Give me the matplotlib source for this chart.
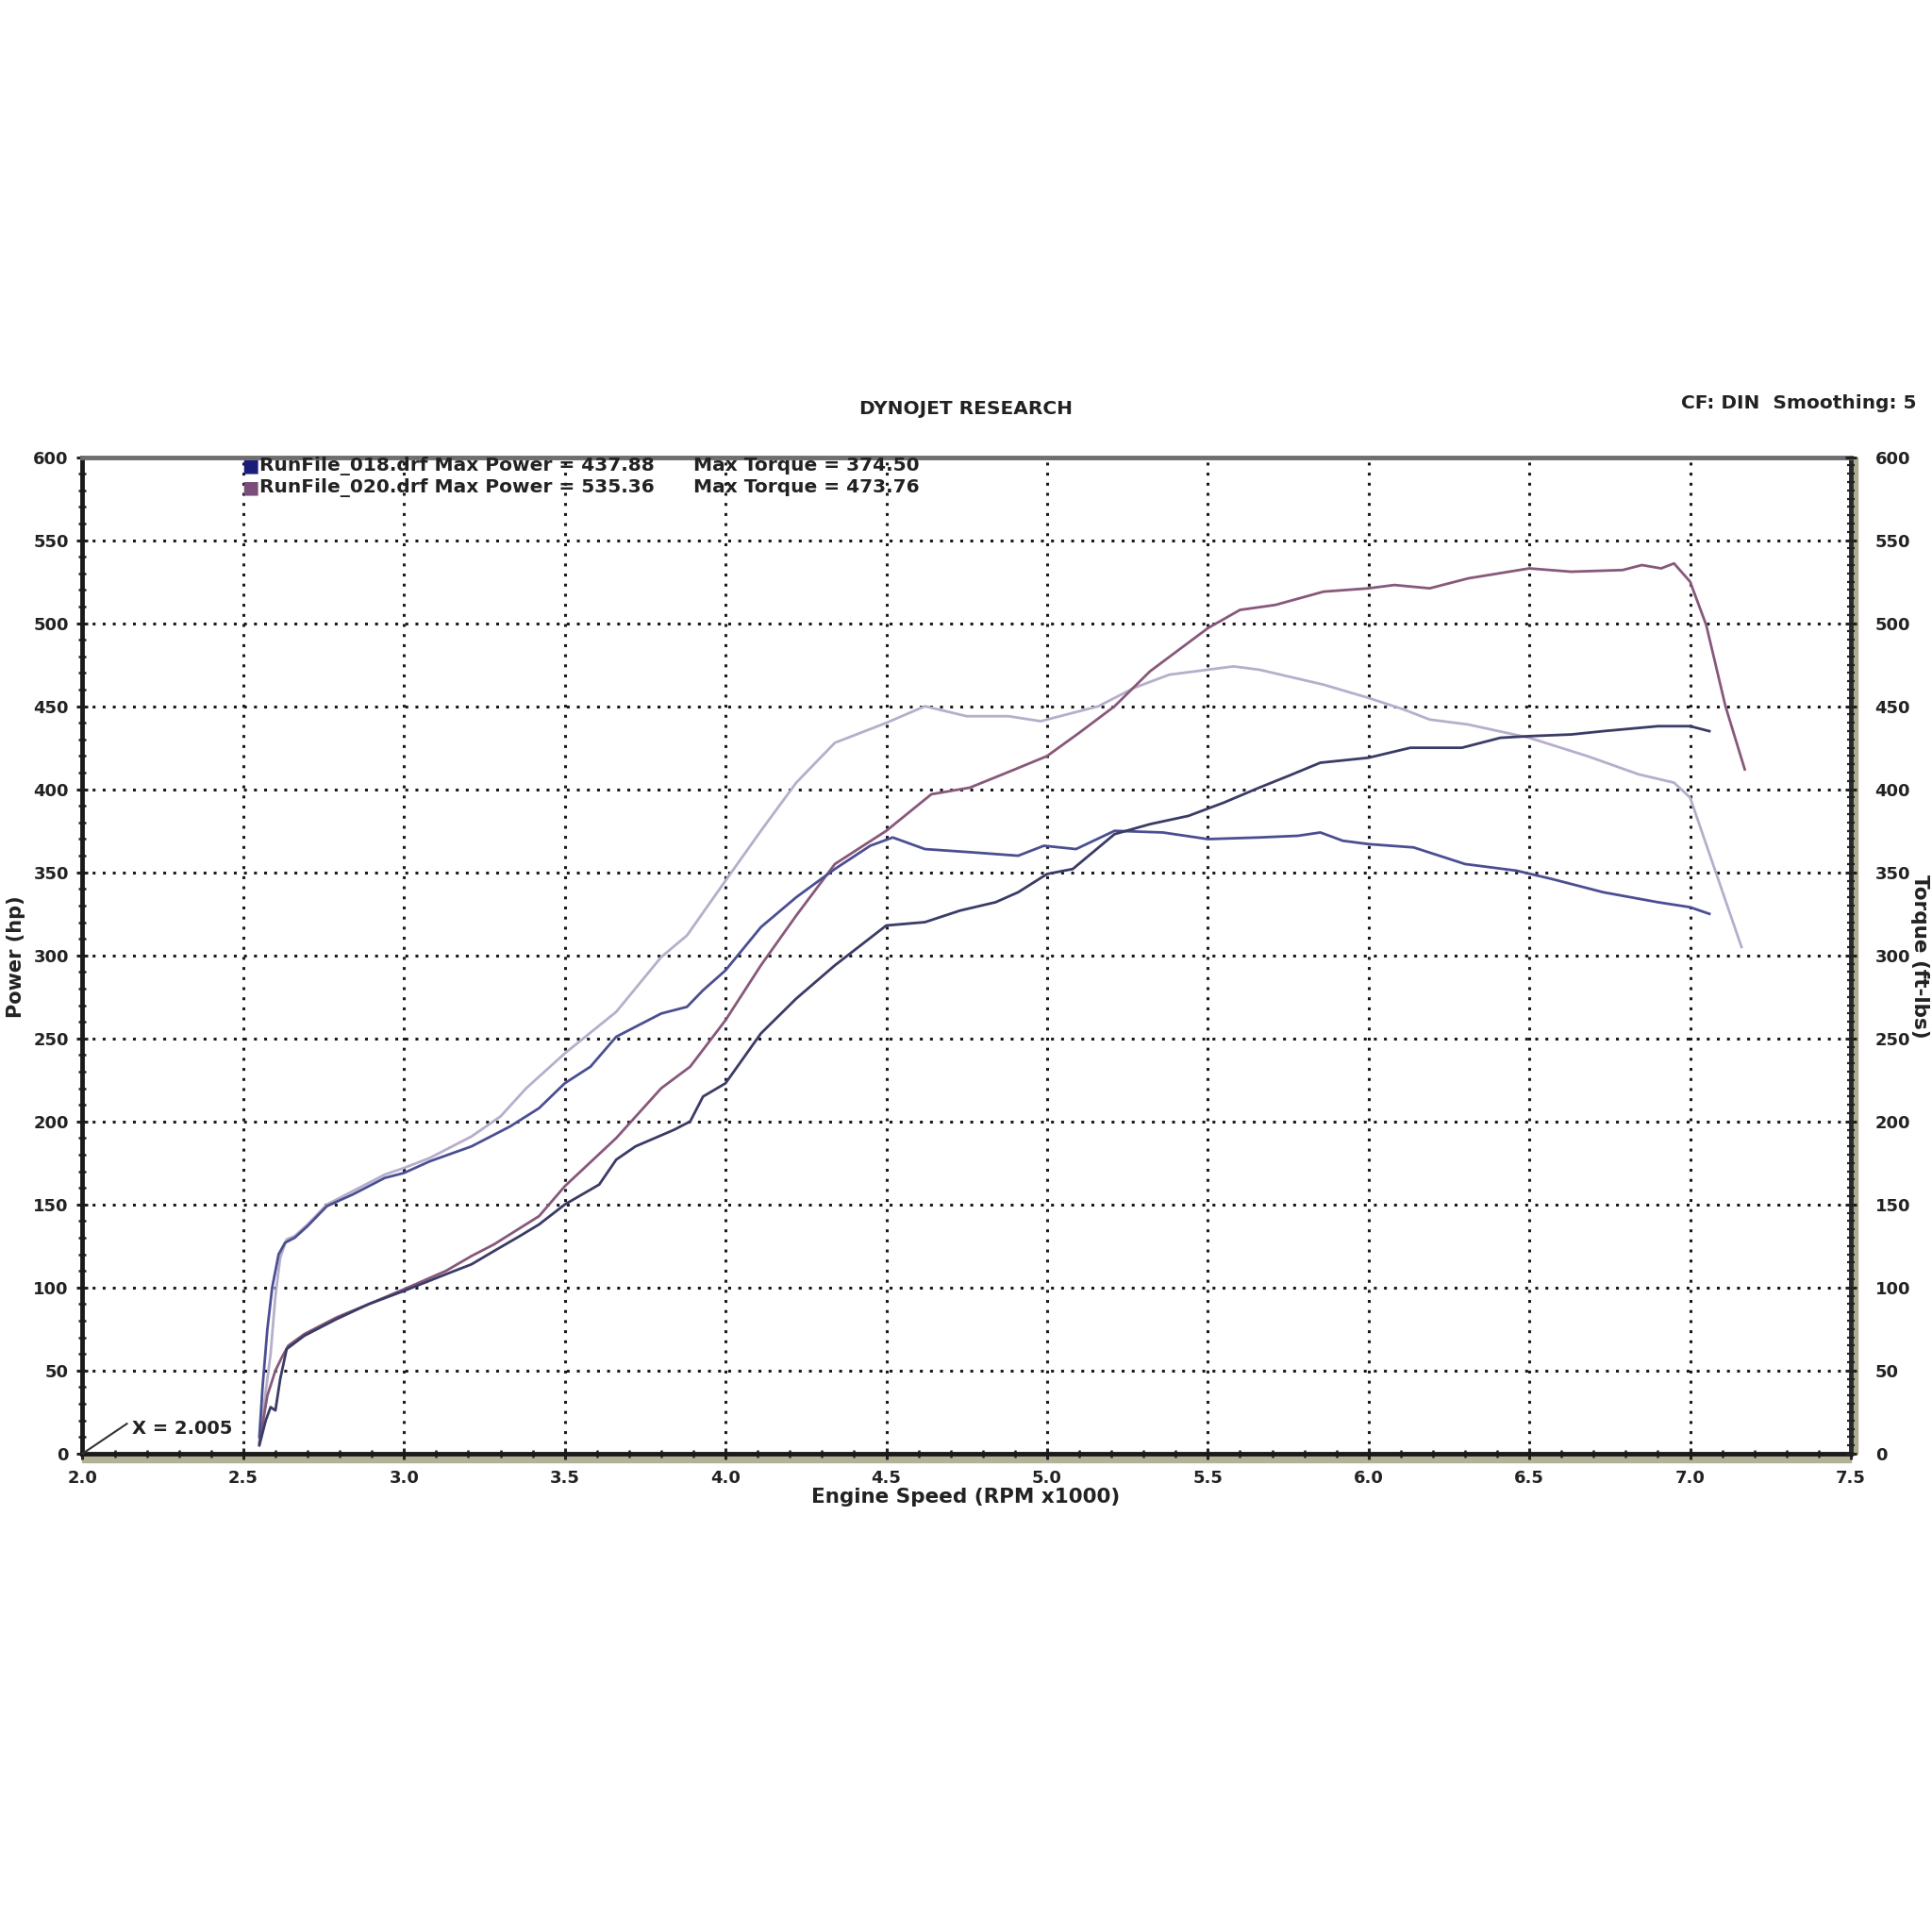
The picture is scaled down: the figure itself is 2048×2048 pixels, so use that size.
import numpy as np
import matplotlib.pyplot as plt
from matplotlib.patches import Rectangle
from matplotlib.ticker import MultipleLocator

# RunFile_018 - power (hp)
rpm_p018 = [2.55, 2.57, 2.585, 2.60, 2.615, 2.635, 2.69, 2.79, 2.89, 3.0, 3.13, 3.21, 3.28, 3.36,
            3.42, 3.5, 3.607, 3.66, 3.72, 3.84, 3.89, 3.93, 4.0, 4.11, 4.22, 4.34, 4.5, 4.62, 4.73,
            4.84, 4.91, 5.0, 5.08, 5.21, 5.32, 5.44, 5.55, 5.66, 5.75, 5.85, 6.0, 6.13, 6.29, 6.41,
            6.5, 6.63, 6.73, 6.90, 7.0, 7.06]
hp_018 = [5, 20, 28, 26, 45, 63, 71, 81, 90, 98, 108, 114, 122, 131,
          138, 150, 162, 177, 185, 195, 200, 215, 223, 253, 274, 294, 318, 320, 327,
          332, 338, 349, 352, 373, 379, 384, 392, 401, 408, 416, 419, 425, 425, 431,
          432, 433, 435, 438, 438, 435]

# RunFile_018 - torque (ft-lbs)
rpm_t018 = [2.55, 2.56, 2.575, 2.59, 2.61, 2.63, 2.66, 2.70, 2.76, 2.84, 2.94, 3.0, 3.08, 3.21,
            3.33, 3.42, 3.5, 3.58, 3.66, 3.80, 3.88, 3.93, 4.0, 4.11, 4.22, 4.34, 4.45, 4.52, 4.62,
            4.77, 4.91, 4.99, 5.09, 5.21, 5.36, 5.5, 5.66, 5.78, 5.85, 5.92, 6.0, 6.14, 6.30, 6.46,
            6.57, 6.73, 6.90, 7.0, 7.06]
tq_018 = [10, 40, 75, 100, 120, 127, 130, 137, 149, 156, 166, 169, 176, 185,
          197, 208, 223, 233, 251, 265, 269, 279, 291, 317, 335, 352, 366, 371, 364,
          362, 360, 366, 364, 375, 374, 370, 371, 372, 374, 369, 367, 365, 355, 351,
          346, 338, 332, 329, 325]

# RunFile_020 - power (hp)
rpm_p020 = [2.55, 2.575, 2.60, 2.62, 2.64, 2.69, 2.79, 2.89, 3.0, 3.13, 3.21, 3.28, 3.42, 3.5,
            3.66, 3.80, 3.89, 4.0, 4.11, 4.22, 4.34, 4.5, 4.64, 4.76, 4.9, 5.0, 5.1, 5.21, 5.32,
            5.5, 5.6, 5.71, 5.86, 6.0, 6.08, 6.19, 6.31, 6.5, 6.63, 6.79, 6.85, 6.91, 6.95, 7.0,
            7.05, 7.11, 7.17]
hp_020 = [6, 35, 50, 58, 65, 72, 82, 90, 99, 110, 119, 126, 143, 161,
          190, 220, 233, 261, 294, 324, 355, 375, 397, 401, 412, 420, 434, 450, 471,
          497, 508, 511, 519, 521, 523, 521, 527, 533, 531, 532, 535, 533, 536, 525,
          499, 450, 412]

# RunFile_020 - torque (ft-lbs)
rpm_t020 = [2.55, 2.565, 2.585, 2.60, 2.615, 2.635, 2.66, 2.70, 2.76, 2.84, 2.94, 3.0, 3.08, 3.21,
            3.30, 3.38, 3.5, 3.66, 3.80, 3.88, 4.0, 4.11, 4.22, 4.34, 4.5, 4.62, 4.75, 4.88, 4.98,
            5.04, 5.16, 5.27, 5.38, 5.5, 5.58, 5.66, 5.86, 6.0, 6.11, 6.19, 6.31, 6.5, 6.68, 6.84,
            6.95, 7.0, 7.08, 7.16]
tq_020 = [7, 30, 60, 95, 118, 129, 131, 138, 150, 158, 168, 172, 178, 191,
          203, 220, 241, 266, 299, 312, 345, 375, 404, 428, 440, 450, 444, 444, 441,
          444, 450, 461, 469, 472, 474, 472, 463, 455, 448, 442, 439, 431, 420, 409,
          404, 395, 350, 305]

legend_rows = [
    ("RunFile_018.drf Max Power = 437.88", "Max Torque = 374.50", "#1c1c7a"),
    ("RunFile_020.drf Max Power = 535.36", "Max Torque = 473.76", "#7a4e78"),
]

fig = plt.figure(figsize=(20.48, 20.48), dpi=100)
fig.patch.set_facecolor("white")
ax = fig.add_axes([0.0427, 0.2476, 0.9153, 0.5158])

# curves
ax.plot(rpm_t020, tq_020, color="#b6aecb", lw=2.0, zorder=3)
ax.plot(rpm_p020, hp_020, color="#87587a", lw=2.0, zorder=4)
ax.plot(rpm_t018, tq_018, color="#4b4f92", lw=2.0, zorder=4)
ax.plot(rpm_p018, hp_018, color="#3a3b66", lw=2.0, zorder=4)

ax.set_xlim(2.0, 7.5)
ax.set_ylim(0, 600)
ax.xaxis.set_major_locator(MultipleLocator(0.5))
ax.xaxis.set_minor_locator(MultipleLocator(0.1))
ax.yaxis.set_major_locator(MultipleLocator(50))
ax.yaxis.set_minor_locator(MultipleLocator(10))
ax.grid(True, which="major", color="#1a1a1a", linestyle=(0, (1, 2.5)), linewidth=2.2)

xt = np.arange(2.0, 7.51, 0.5)
ax.set_xticks(xt)
ax.set_xticklabels(["%.1f" % v for v in xt])
ax.tick_params(axis="both", which="major", direction="inout", length=9, width=2.2,
               labelsize=13, pad=6, color="#222")
ax.tick_params(axis="both", which="minor", direction="inout", length=6, width=1.8, color="#222")
for t in ax.get_xticklabels() + ax.get_yticklabels():
    t.set_fontweight("bold")
    t.set_color("#222")
ax.tick_params(axis="x", pad=8)

ax.spines["left"].set_linewidth(3.5)
ax.spines["left"].set_color("#1a1a1a")
ax.spines["bottom"].set_linewidth(3.5)
ax.spines["bottom"].set_color("#1a1a1a")
ax.spines["top"].set_linewidth(3.5)
ax.spines["top"].set_color("#6e6e6e")
ax.spines["right"].set_linewidth(3.5)
ax.spines["right"].set_color("#2a2a2a")

# shaded bands under bottom axis and beside right axis
ax.add_patch(Rectangle((0, -0.009), 1.0, 0.009, transform=ax.transAxes, color="#b4b296",
                       clip_on=False, zorder=1))
ax.add_patch(Rectangle((1.0, 0), 0.004, 1.0, transform=ax.transAxes, color="#aeac92",
                       clip_on=False, zorder=1))

ax2 = ax.twinx()
ax2.set_ylim(0, 600)
ax2.yaxis.set_major_locator(MultipleLocator(50))
ax2.yaxis.set_minor_locator(MultipleLocator(5))
ax2.tick_params(axis="y", which="major", direction="inout", length=9, width=2.2,
                labelsize=13, pad=14, color="#222")
ax2.tick_params(axis="y", which="minor", direction="inout", length=6, width=1.6, color="#222")
for t in ax2.get_yticklabels():
    t.set_fontweight("bold")
    t.set_color("#222")
for s in ax2.spines.values():
    s.set_visible(False)

# labels
fig.text(0.5, 0.7885, "DYNOJET RESEARCH", ha="center", va="center", fontsize=14.5,
         fontweight="bold", color="#222")
fig.text(0.992, 0.7912, "CF: DIN  Smoothing: 5", ha="right", va="center", fontsize=14.5,
         fontweight="bold", color="#222")
fig.text(0.5, 0.2252, "Engine Speed (RPM x1000)", ha="center", va="center", fontsize=15.5,
         fontweight="bold", color="#222")
fig.text(0.0085, 0.505, "Power (hp)", ha="center", va="center", rotation=90, fontsize=15,
         fontweight="bold", color="#222")
fig.text(0.9935, 0.505, "Torque (ft-lbs)", ha="center", va="center", rotation=270,
         fontsize=15.5, fontweight="bold", color="#222")

# legend rows
row_y = [0.7588, 0.7476]
for (left, right, col), y in zip(legend_rows, row_y):
    fig.text(0.1252, y, "\u25a0", ha="left", va="center", fontsize=14, color=col)
    fig.text(0.1343, y, left, ha="left", va="center", fontsize=14.5, fontweight="bold",
             color="#222")
    fig.text(0.359, y, right, ha="left", va="center", fontsize=14.5, fontweight="bold",
             color="#222")

# X = 2.005 marker
ax.plot([2.0, 2.138], [0, 18], color="#333", lw=1.5, clip_on=False, zorder=5)
fig.text(0.0684, 0.2603, "X = 2.005", ha="left", va="center", fontsize=14,
         fontweight="bold", color="#222")

fig.savefig("out.png", dpi=100)
